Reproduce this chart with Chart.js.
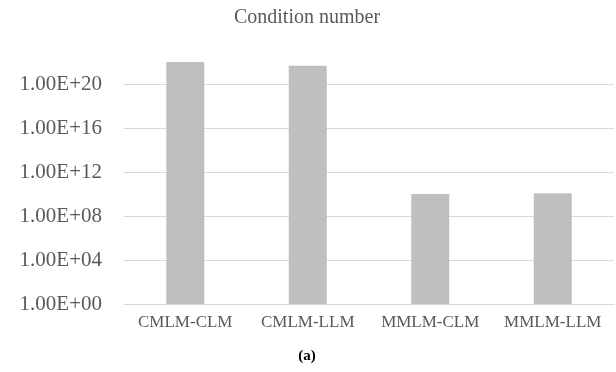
<!DOCTYPE html>
<html>
<head>
<meta charset="utf-8">
<script src="https://cdn.jsdelivr.net/npm/chart.js@4/dist/chart.umd.min.js"></script>
<style>
  html, body { margin: 0; padding: 0; background: #fff; }
  canvas { display: block; }
</style>
</head>
<body>
<canvas id="chart" width="616" height="372"></canvas>
<script>
// data
const categories = ['CMLM-CLM', 'CMLM-LLM', 'MMLM-CLM', 'MMLM-LLM']
const conditionNumbers = [1.0e22, 4.5e21, 1.0e10, 1.2e10]
const tickValues = [1, 1e4, 1e8, 1e12, 1e16, 1e20]
const tickLabels = ['1.00E+00', '1.00E+04', '1.00E+08', '1.00E+12', '1.00E+16', '1.00E+20']

const SERIF = "'Liberation Serif', 'Times New Roman', serif"
const TEXT = '#595959'
const GRID = '#d9d9d9'

new Chart(document.getElementById('chart'), {
  type: 'bar',
  data: {
    labels: categories,
    datasets: [
      {
        data: conditionNumbers,
        backgroundColor: '#bfbfbf',
        borderWidth: 0,
        categoryPercentage: 1,
        barPercentage: 0.31,
      },
    ],
  },
  options: {
    responsive: false,
    animation: false,
    devicePixelRatio: 1,
    layout: { padding: { left: 0, right: 2, top: 0, bottom: 0 } },
    plugins: {
      legend: { display: false },
      tooltip: { enabled: false },
      title: {
        display: true,
        text: 'Condition number',
        color: TEXT,
        font: { family: SERIF, size: 20, weight: 'normal' },
        padding: { top: 6, bottom: 10 },
      },
      subtitle: {
        display: true,
        position: 'bottom',
        text: '(a)',
        color: '#000',
        font: { family: SERIF, size: 15, weight: 'bold' },
        padding: { top: 0, bottom: 7 },
      },
    },
    scales: {
      x: {
        grid: { display: false, drawTicks: false },
        border: { display: true, color: GRID, width: 1 },
        ticks: {
          color: TEXT,
          font: { family: SERIF, size: 17 },
          padding: 8,
          maxRotation: 0,
        },
        afterFit(scale) {
          scale.height = 43
        },
      },
      y: {
        type: 'logarithmic',
        min: 1,
        max: 1e24,
        grid: { color: GRID, drawTicks: false },
        border: { display: false },
        ticks: {
          color: TEXT,
          font: { family: SERIF, size: 21 },
          padding: 22,
          callback(value) {
            const i = tickValues.indexOf(value)
            return i === -1 ? '' : tickLabels[i]
          },
        },
        afterBuildTicks(scale) {
          scale.ticks = tickValues.map((v) => ({ value: v }))
        },
        afterFit(scale) {
          scale.width = 124
        },
      },
    },
  },
})
</script>
</body>
</html>
